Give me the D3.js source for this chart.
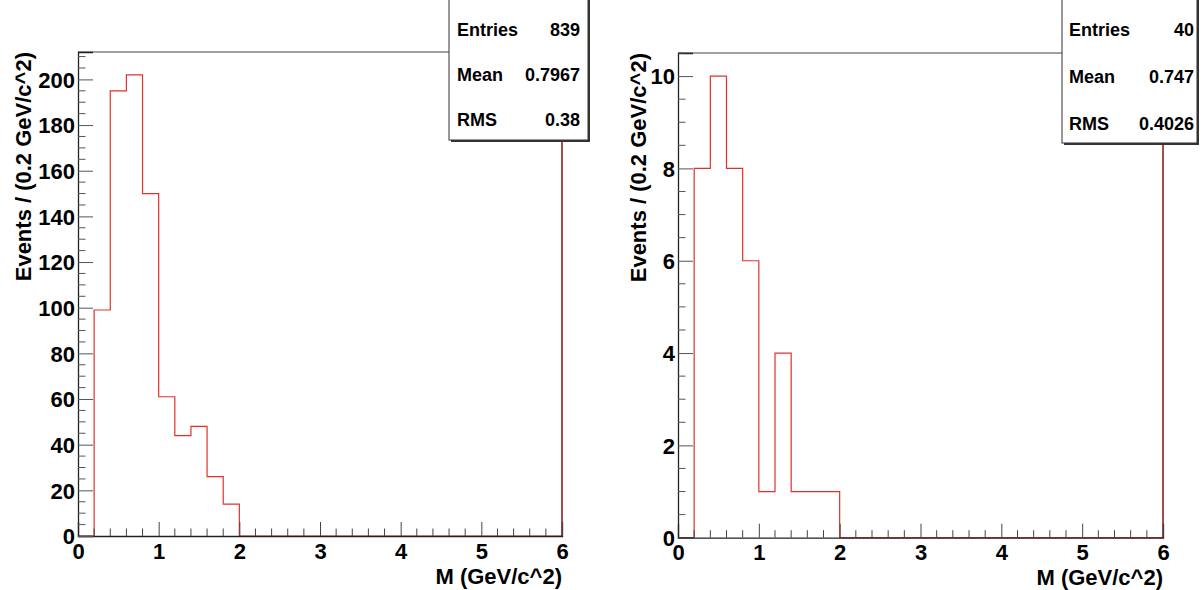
<!DOCTYPE html>
<html>
<head>
<meta charset="utf-8">
<script src="https://cdn.jsdelivr.net/npm/d3@7"></script>
<style>
  html, body { margin: 0; padding: 0; background: #fff; }
  svg { display: block; font-family: "Liberation Sans", Arial, Helvetica, sans-serif; font-weight: bold; }
</style>
</head>
<body>
<svg id="chart" width="1202" height="590"></svg>
<script>
// ---- data ----
const binWidth = 0.2;
const binLow = [0.0, 0.2, 0.4, 0.6, 0.8, 1.0, 1.2, 1.4, 1.6, 1.8];
const countsLeft = [0, 99, 195, 202, 150, 61, 44, 48, 26, 14];
const countsRight = [0, 8, 10, 8, 6, 1, 4, 1, 1, 1];
const xTickLabels = [0, 1, 2, 3, 4, 5, 6];
const yTickLabelsLeft = [0, 20, 40, 60, 80, 100, 120, 140, 160, 180, 200];
const yTickLabelsRight = [0, 2, 4, 6, 8, 10];
const statsLeft = [["Entries", "839"], ["Mean", "0.7967"], ["RMS", "0.38"]];
const statsRight = [["Entries", "40"], ["Mean", "0.747"], ["RMS", "0.4026"]];
const xTitle = "M (GeV/c^2)";
const yTitle = "Events / (0.2 GeV/c^2)";

// ---- layout ----
const panels = [
  { counts: countsLeft, yTicks: yTickLabelsLeft, yMax: 212, yMinorStep: 5, stats: statsLeft,
    x0: 78, x1: 562, yTop: 52, yBot: 536, yTitleX: 23,
    box: { x: 449, y: -2, w: 139, h: 142, rowY0: 30, rowDy: 45, padL: 8, padR: 8 } },
  { counts: countsRight, yTicks: yTickLabelsRight, yMax: 10.5, yMinorStep: 0.5, stats: statsRight,
    x0: 678, x1: 1163, yTop: 53, yBot: 537.7, yTitleX: 638,
    box: { x: 1062, y: -2, w: 135, h: 145, rowY0: 30, rowDy: 47, padL: 7, padR: 3 } }
];

const svg = d3.select("#chart");
const axisColor = "#222";
const histColor = "#e3302c";

panels.forEach(p => {
  const g = svg.append("g");
  const x = d3.scaleLinear().domain([0, 6]).range([p.x0, p.x1]);
  const y = d3.scaleLinear().domain([0, p.yMax]).range([p.yBot, p.yTop]);

  // frame top
  g.append("line").attr("x1", p.x0).attr("x2", p.box.x).attr("y1", p.yTop).attr("y2", p.yTop)
    .attr("stroke", "#444").attr("stroke-width", 1);

  // histogram
  const pts = [[0, 0]];
  p.counts.forEach((v, i) => { pts.push([binLow[i], v]); pts.push([binLow[i] + binWidth, v]); });
  pts.push([binLow[binLow.length - 1] + binWidth, 0]);
  pts.push([6, 0]);
  g.append("path")
    .attr("d", d3.line().x(d => x(d[0])).y(d => y(d[1]))(pts))
    .attr("fill", "none").attr("stroke", histColor).attr("stroke-width", 1.2);

  // right frame edge (dark red as rendered)
  g.append("line").attr("x1", x(6)).attr("x2", x(6)).attr("y1", y(0)).attr("y2", y(p.yMax))
    .attr("stroke", "#8a0f0f").attr("stroke-width", 1.5);

  // x axis
  const xAxis = d3.axisBottom(x).tickValues(xTickLabels).tickSize(-14).tickFormat(d3.format("d")).tickPadding(0);
  const gx = g.append("g").attr("transform", `translate(0,${p.yBot})`).call(xAxis);
  gx.select(".domain").attr("stroke", axisColor).attr("stroke-width", 1.3);
  gx.selectAll(".tick line").attr("stroke", "#444");
  gx.selectAll(".tick text").attr("y", 15).attr("dy", "0.35em")
    .attr("font-size", 22).attr("font-family", "Liberation Sans, Arial, sans-serif").attr("font-weight", "bold").attr("fill", "#000");
  const xMinor = d3.range(0, 6.0001, 0.2).filter(v => Math.abs(v - Math.round(v)) > 1e-6);
  g.append("g").selectAll("line").data(xMinor).join("line")
    .attr("x1", d => x(d)).attr("x2", d => x(d)).attr("y1", p.yBot).attr("y2", p.yBot - 7.5)
    .attr("stroke", "#444").attr("stroke-width", 1);

  // y axis
  const yAxis = d3.axisLeft(y).tickValues(p.yTicks).tickSize(-15).tickFormat(d3.format("d")).tickPadding(0);
  const gy = g.append("g").attr("transform", `translate(${p.x0},0)`).call(yAxis);
  gy.select(".domain").attr("stroke", axisColor).attr("stroke-width", 1.3);
  gy.selectAll(".tick line").attr("stroke", "#555");
  gy.selectAll(".tick text").attr("x", -3).attr("dy", "0.35em")
    .attr("font-size", 22).attr("font-family", "Liberation Sans, Arial, sans-serif").attr("font-weight", "bold").attr("fill", "#000");
  const yMinor = d3.range(0, p.yMax + 1e-6, p.yMinorStep).filter(v => !p.yTicks.includes(v));
  g.append("g").selectAll("line").data(yMinor).join("line")
    .attr("x1", p.x0).attr("x2", p.x0 + 7.5).attr("y1", d => y(d)).attr("y2", d => y(d))
    .attr("stroke", "#555").attr("stroke-width", 1);

  // axis titles
  g.append("text").attr("x", p.x1).attr("y", p.yBot + 40).attr("dy", "0.35em")
    .attr("text-anchor", "end").attr("font-size", 22).attr("fill", "#000").text(xTitle);
  g.append("text")
    .attr("transform", `translate(${p.yTitleX},${p.yTop}) rotate(-90)`)
    .attr("dy", "0.35em").attr("text-anchor", "end").attr("font-size", 22).attr("fill", "#000").text(yTitle);

  // stats box
  const b = p.box;
  g.append("rect").attr("x", b.x + 2).attr("y", b.y + 2).attr("width", b.w).attr("height", b.h).attr("fill", "#333");
  g.append("rect").attr("x", b.x).attr("y", b.y).attr("width", b.w).attr("height", b.h)
    .attr("fill", "#fff").attr("stroke", "#333").attr("stroke-width", 1);
  p.stats.forEach((row, i) => {
    const ty = b.rowY0 + i * b.rowDy;
    g.append("text").attr("x", b.x + b.padL).attr("y", ty).attr("dy", "0.35em")
      .attr("font-size", 18).attr("fill", "#000").text(row[0]);
    g.append("text").attr("x", b.x + b.w - b.padR).attr("y", ty).attr("dy", "0.35em")
      .attr("text-anchor", "end").attr("font-size", 18).attr("fill", "#000").text(row[1]);
  });
});
</script>
</body>
</html>
